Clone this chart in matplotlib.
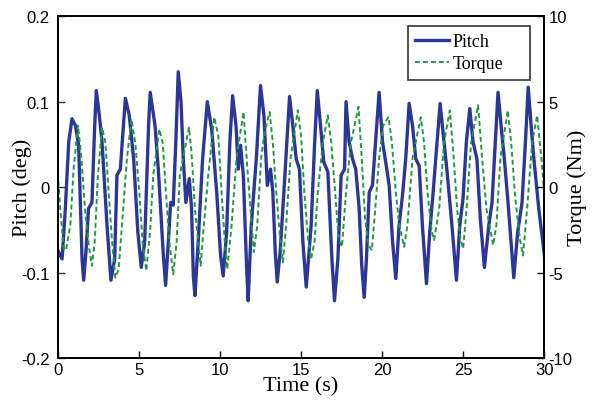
import matplotlib
matplotlib.use('Agg')
import matplotlib.pyplot as plt

# pitch (deg)
pitch_t = [0.0, 0.27, 0.47, 0.68, 0.88, 1.09, 1.29, 1.5, 1.6, 1.74, 1.9, 2.11, 2.28, 2.38, 2.52, 2.73,
           3.04, 3.28, 3.51, 3.65, 3.86, 4.17, 4.41, 4.68, 4.94, 5.15, 5.36, 5.6, 5.7,
           6.0, 6.2, 6.5, 6.65, 6.82, 6.96, 7.12, 7.28, 7.43, 7.6, 7.74, 7.9, 8.11, 8.25, 8.36, 8.46,
           8.66, 8.93, 9.22, 9.49, 9.8, 10.04, 10.2, 10.41, 10.61, 10.78, 10.99, 11.13, 11.27, 11.44,
           11.64, 11.74, 11.93, 12.24, 12.5, 12.71, 12.92, 13.12, 13.26, 13.41, 13.53, 13.71, 13.94,
           14.29, 14.49, 14.7, 14.9, 15.11, 15.32, 15.62, 15.83, 16.0, 16.2, 16.4, 16.65, 16.9, 17.06,
           17.27, 17.47, 17.68, 17.77, 17.96, 18.17, 18.37, 18.58, 18.74, 18.89, 19.03, 19.2, 19.4,
           19.81, 20.02, 20.22, 20.43, 20.64, 20.84, 21.04, 21.25, 21.45, 21.66, 21.87, 22.07, 22.28,
           22.48, 22.73, 22.93, 23.14, 23.57, 23.81, 24.0, 24.3, 24.58, 24.78, 24.98, 25.19, 25.4,
           25.6, 25.84, 26.05, 26.3, 26.57, 26.77, 27.14, 27.33, 27.53, 27.74, 28.11, 28.35, 28.62,
           28.83, 29.0, 29.18, 29.35, 29.65, 30.0]
pitch = [-0.074, -0.084, -0.025, 0.053, 0.080, 0.072, 0.049, -0.084, -0.109, -0.076, -0.025, -0.018,
         0.072, 0.113, 0.092, 0.053, -0.045, -0.109, -0.084, 0.014, 0.021, 0.104, 0.084, 0.033,
         -0.053, -0.094, -0.064, 0.072, 0.111, 0.072, 0.021, -0.076, -0.115, -0.064, -0.018, -0.021,
         0.053, 0.135, 0.100, 0.033, -0.018, 0.010, -0.025, -0.104, -0.127, -0.064, 0.033, 0.100,
         0.068, -0.006, -0.080, -0.104, -0.053, 0.053, 0.107, 0.072, 0.021, 0.049, 0.014, -0.092,
         -0.133, -0.045, 0.033, 0.119, 0.084, 0.002, 0.021, -0.006, -0.076, -0.111, -0.076, -0.006,
         0.106, 0.072, 0.033, 0.021, -0.064, -0.117, -0.045, 0.049, 0.113, 0.072, 0.029, 0.018,
         -0.084, -0.133, -0.084, 0.014, 0.021, 0.100, 0.053, 0.033, 0.021, -0.025, -0.092, -0.129,
         -0.084, -0.006, 0.002, 0.111, 0.053, 0.029, 0.002, -0.064, -0.107, -0.045, -0.010, 0.033,
         0.098, 0.072, 0.033, 0.025, -0.045, -0.113, -0.053, -0.006, 0.098, 0.053, 0.018, -0.045,
         -0.109, -0.045, -0.014, 0.053, 0.092, 0.053, 0.033, -0.037, -0.094, -0.045, -0.018, 0.111,
         0.072, 0.033, -0.014, -0.106, -0.053, -0.018, 0.053, 0.117, 0.072, 0.033, -0.025, -0.080]

# torque (Nm)
torque_t = [0.0, 0.16, 0.37, 0.51, 0.78, 0.98, 1.25, 1.46, 1.7, 1.91, 2.11, 2.28, 2.48, 2.73, 2.94,
            3.14, 3.35, 3.55, 3.76, 3.96, 4.27, 4.54, 4.78, 5.03, 5.23, 5.46, 5.7, 5.89, 6.26, 6.47,
            6.67, 6.88, 7.12, 7.33, 7.53, 8.09, 8.25, 8.46, 8.81, 9.01, 9.28, 9.65, 9.9, 10.1, 10.3,
            10.45, 10.72, 11.02, 11.45, 11.72, 12.09, 12.3, 12.54, 12.75, 13.06, 13.26, 13.47, 13.67,
            13.88, 14.08, 14.35, 14.8, 15.0, 15.2, 15.45, 15.62, 15.83, 16.03, 16.34, 16.65, 16.86,
            17.1, 17.31, 17.52, 17.77, 18.07, 18.54, 18.74, 18.95, 19.16, 19.36, 19.57, 19.81, 20.06,
            20.39, 20.6, 20.84, 21.05, 21.35, 21.56, 21.87, 22.38, 22.58, 22.79, 23.06, 23.2, 23.51,
            23.81, 24.17, 24.41, 24.62, 24.82, 24.99, 25.2, 25.48, 25.91, 26.16, 26.43, 26.84, 27.04,
            27.29, 27.74, 27.95, 28.21, 28.48, 28.68, 28.93, 29.24, 29.55, 29.81, 30.0]
torque = [0.8, -1.3, -3.6, -3.7, -2.2, 1.1, 3.6, 1.7, -1.5, -3.4, -4.6, -3.2, 0.7, 3.5, 2.6,
          -0.3, -3.2, -5.3, -4.8, -2.2, 1.7, 4.0, 2.6, -0.3, -3.2, -4.9, -2.5, 0.7, 3.4, 2.6,
          -0.3, -3.2, -5.1, -3.2, 0.7, 3.5, 2.0, -1.3, -4.6, -2.2, 0.7, 4.1, 3.0, -0.3, -3.2,
          -4.8, -2.2, 1.7, 4.4, 0.7, -3.8, -2.2, 1.7, 3.2, 4.4, 2.6, -0.3, -2.6,
          -4.4, -2.2, 1.7, 4.5, 3.0, -0.3, -3.2, -4.2, -3.2, -0.3, 2.6, 4.2, 2.6,
          -0.3, -3.0, -3.5, -0.3, 2.6, 4.7, 1.7, -1.9, -3.4, -3.7, -1.3, 1.7, 3.6,
          4.1, 2.6, -0.3, -2.2, -3.5, -2.2, 1.7, 4.1, 2.6, -0.3, -2.6, -3.1, -1.3,
          2.6, 4.5, 1.7, -1.3, -3.0, -3.6, -1.3, 2.6, 4.8, 1.7, -1.3, -3.4, -2.2,
          1.7, 4.5, 2.6, -0.7, -3.0, -4.0, -1.3, 2.6, 4.2, 1.7, -0.5]

pitch_ticks = [-0.2, -0.1, 0, 0.1, 0.2]
pitch_labels = ['-0.2', '-0.1', '0', '0.1', '0.2']
torque_ticks = [-10, -5, 0, 5, 10]
torque_labels = ['-10', '-5', '0', '5', '10']
time_ticks = [0, 5, 10, 15, 20, 25, 30]

blue = '#2c3696'
green = '#1e9a3c'
serif = 'Liberation Serif'
sans = 'Liberation Sans'

fig = plt.figure(figsize=(5.95, 4.02), dpi=100)
ax = fig.add_axes([0.097, 0.107, 0.818, 0.850])
ax2 = ax.twinx()

l1, = ax.plot(pitch_t, pitch, color=blue, lw=2.4, label='Pitch', solid_joinstyle='round')
l2, = ax2.plot(torque_t, torque, color=green, lw=1.4, ls=(0, (2.5, 1.6)), label='Torque')

ax.set_xlim(0, 30)
ax.set_ylim(-0.2, 0.2)
ax2.set_ylim(-10, 10)
ax.set_xticks(time_ticks)
ax.set_xticklabels([str(t) for t in time_ticks], family=sans, fontsize=12)
ax.set_yticks(pitch_ticks)
ax.set_yticklabels(pitch_labels, family=sans, fontsize=12)
ax2.set_yticks(torque_ticks)
ax2.set_yticklabels(torque_labels, family=sans, fontsize=12)

for a in (ax, ax2):
    a.tick_params(direction='in', length=5, width=1, pad=3)
    for s in a.spines.values():
        s.set_linewidth(1.3)
ax.tick_params(axis='y', colors='#333333', labelcolor='black', pad=6)

ax.set_xlabel('Time (s)', family=serif, fontsize=16)
ax.set_ylabel('Pitch (deg)', family=serif, fontsize=16)
ax2.set_ylabel('Torque (Nm)', family=serif, fontsize=16)
ax.xaxis.set_label_coords(0.5, -0.053)
ax.yaxis.set_label_coords(-0.053, 0.5)
ax2.yaxis.set_label_coords(1.046, 0.5)

leg = ax2.legend([l1, l2], ['Pitch', 'Torque'], loc='upper left',
                 bbox_to_anchor=(0.719, 0.80, 0.251, 0.172), mode='expand',
                 prop={'family': serif, 'size': 13}, frameon=True, fancybox=False,
                 handlelength=1.9, handletextpad=0.2, borderpad=0.4, labelspacing=0.3,
                 borderaxespad=0)
leg.get_frame().set_edgecolor('black')
leg.get_frame().set_linewidth(1.2)

fig.savefig('out.png', dpi=100)
